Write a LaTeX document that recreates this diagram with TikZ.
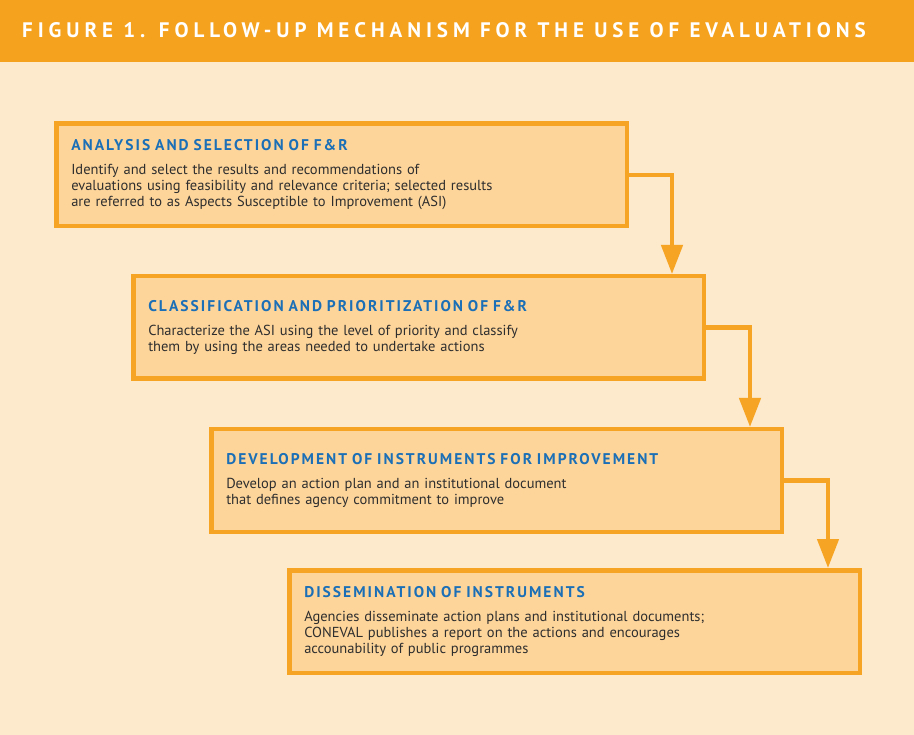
\documentclass[tikz,border=0pt]{standalone}
\usepackage{fontspec}
\usetikzlibrary{arrows.meta}
\setmainfont{PT Sans}
\newfontfamily\headfont[LetterSpace=23.5]{PT Sans}
\newfontfamily\titlefont[LetterSpace=13]{PT Sans}

\definecolor{bgcream}{HTML}{FDE9CC}
\definecolor{headorange}{HTML}{F5A31F}
\definecolor{lineorange}{HTML}{F5A423}
\definecolor{boxfill}{HTML}{FDD59B}
\definecolor{titleblue}{HTML}{1B6FB6}
\definecolor{bodygray}{HTML}{2E2E2E}

\newcommand\steptitle[1]{{\titlefont\bfseries\fontsize{15.5}{16}\selectfont\color{titleblue}#1}\\[8pt]}

\begin{document}
\begin{tikzpicture}[x=1pt,y=-1pt,
  stepbox/.style={draw=lineorange, fill=boxfill, line width=4.5pt,
    rectangle, minimum width=570.5pt, minimum height=102.5pt,
    text width=540.5pt, inner xsep=15pt, inner ysep=0pt, align=left,
    text=bodygray, font=\fontsize{14.5}{16}\selectfont},
  flow/.style={draw=lineorange, line width=4.5pt,
    -{Triangle[length=29pt,width=21pt]}}]
\useasboundingbox (0,0) rectangle (914,735);

% page background and heading band
\fill[bgcream] (0,0) rectangle (914,735);
\fill[headorange] (0,0) rectangle (914,62);
\node[anchor=base west, inner sep=0pt, text=white,
  font=\headfont\bfseries\fontsize{21}{24}\selectfont] (head) at (22,37.5)
  {FIGURE 1. FOLLOW-UP MECHANISM FOR THE USE OF EVALUATIONS};

% the four steps
\node[stepbox] (b1) at (341.5,175) {\steptitle{ANALYSIS AND SELECTION OF F\&R}
Identify and select the results and recommendations of\\
evaluations using feasibility and relevance criteria; selected results\\
are referred to as Aspects Susceptible to Improvement (ASI)};

\node[stepbox] (b2) at (418.5,327.5) {\steptitle{CLASSIFICATION AND PRIORITIZATION OF F\&R}
Characterize the ASI using the level of priority and classify\\
them by using the areas needed to undertake actions};

\node[stepbox] (b3) at (496.5,480.5) {\steptitle{DEVELOPMENT OF INSTRUMENTS FOR IMPROVEMENT}
Develop an action plan and an institutional document\\
that defines agency commitment to improve};

\node[stepbox] (b4) at (574.5,621.5) {\steptitle{DISSEMINATION OF INSTRUMENTS}
Agencies disseminate action plans and institutional documents;\\
CONEVAL publishes a report on the actions and encourages\\
accounability of public programmes};

% connectors between the steps
\draw[flow] (b1.east) -| ([xshift=-34pt]b2.north east);
\draw[flow] (b2.east) -| ([xshift=-34pt]b3.north east);
\draw[flow] (b3.east) -| ([xshift=-34pt]b4.north east);
\end{tikzpicture}
\end{document}
